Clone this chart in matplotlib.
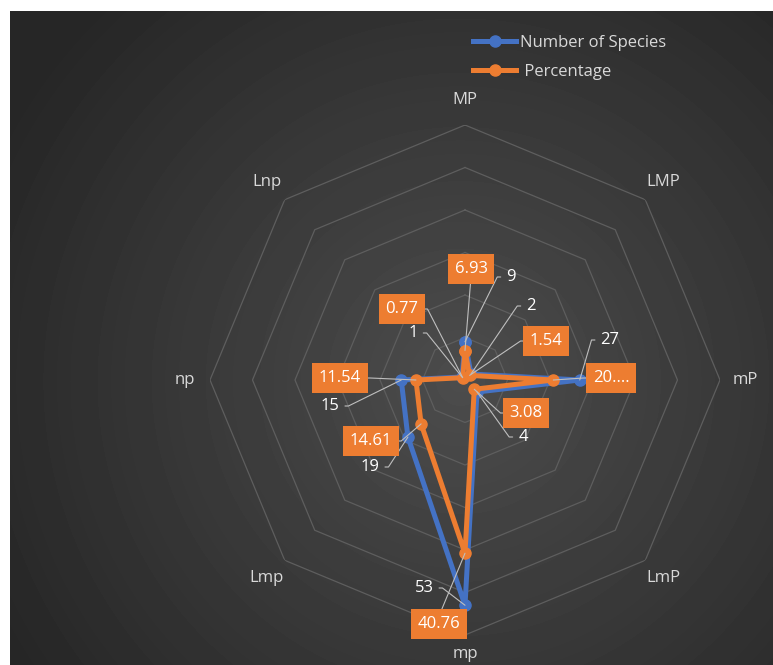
import numpy as np
import matplotlib.pyplot as plt
from matplotlib.lines import Line2D

plt.rcParams['font.family'] = ['Open Sans', 'DejaVu Sans']

# growth-form categories, clockwise from the top
categories = ['MP', 'LMP', 'mP', 'LmP', 'mp', 'Lmp', 'np', 'Lnp']
species_counts = [9, 2, 27, 4, 53, 19, 15, 1]
percentages = [6.93, 1.54, 20.77, 3.08, 40.76, 14.61, 11.54, 0.77]
percent_text = ['6.93', '1.54', '20....', '3.08', '40.76', '14.61', '11.54', '0.77']

BLUE = '#4472C4'
ORANGE = '#ED7D31'
W, H = 773, 665

fig = plt.figure(figsize=(W / 100, H / 100), dpi=100, facecolor='white')

# dark panel with a soft radial glow
bg = fig.add_axes([10 / W, 0, 1 - 10 / W, (H - 11) / H])
yy, xx = np.mgrid[0:654, 0:763]
dist = np.hypot(xx - 450, yy - 370) / 520.0
shade = np.clip(0.30 - 0.15 * dist, 0.15, 0.30)
bg.imshow(shade, cmap='gray', vmin=0, vmax=1, aspect='auto', interpolation='bilinear')
bg.set_axis_off()

cx, cy, rad = 465, 380, 255
ax = fig.add_axes([(cx - rad) / W, (H - cy - rad) / H, 2 * rad / W, 2 * rad / H],
                  projection='polar')
ax.set_facecolor('none')
ax.set_theta_zero_location('N')
ax.set_theta_direction(-1)
ax.set_ylim(0, 60)
ax.grid(False)
ax.spines['polar'].set_visible(False)
ax.set_xticks([])
ax.set_yticks([])

angles = np.linspace(0, 2 * np.pi, len(categories), endpoint=False)
closed = np.append(angles, angles[0])

# octagonal gridlines
for r in range(10, 61, 10):
    ax.plot(closed, [r] * len(closed), color='#5e5e5e', lw=0.9, zorder=1)

for ang, name in zip(angles, categories):
    # the bottom label sits a touch closer so it stays on the canvas
    r_lab = 64.5 if name == 'mp' else 66
    ax.text(ang, r_lab, name, color='#d9d9d9', fontsize=12, ha='center', va='center',
            clip_on=False)

ax.plot(closed, species_counts + species_counts[:1], color=BLUE, lw=3.6,
        marker='o', ms=8, zorder=3, solid_joinstyle='round')
ax.plot(closed, percentages + percentages[:1], color=ORANGE, lw=3.6,
        marker='o', ms=8, zorder=4, solid_joinstyle='round')

# label placement in figure pixels (x, y from top) and which side the leader leaves
count_pos = [(511, 277, 'l'), (531, 306, 'l'), (610, 340, 'l'), (523, 437, 'l'),
             (424, 588, 'r'), (370, 467, 'r'), (330, 406, 'r'), (413, 333, 'r')]
pct_pos = [(471, 269, 'b'), (546, 341, 'l'), (611, 378, 'l'), (526, 413, 'l'),
           (439, 624, 't'), (371, 441, 'r'), (340, 378, 'r'), (402, 309, 'r')]


def leader(side):
    if side == 'l':
        return dict(relpos=(0, 0.5), connectionstyle='arc,angleA=180,armA=9,armB=0,rad=0')
    if side == 'r':
        return dict(relpos=(1, 0.5), connectionstyle='arc,angleA=0,armA=9,armB=0,rad=0')
    if side == 'b':
        return dict(relpos=(0.5, 0), connectionstyle='arc3')
    return dict(relpos=(0.5, 1), connectionstyle='arc3')


for ang, val, (px, py, side) in zip(angles, species_counts, count_pos):
    ax.annotate(str(val), xy=(ang, val), xytext=(px, H - py), textcoords='figure pixels',
                color='white', fontsize=12, ha='center', va='center', zorder=6,
                arrowprops=dict(arrowstyle='-', color='#bfbfbf', lw=0.8,
                                shrinkA=2, shrinkB=0, **leader(side)))

for ang, val, txt, (px, py, side) in zip(angles, percentages, percent_text, pct_pos):
    ax.annotate(txt, xy=(ang, val), xytext=(px, H - py), textcoords='figure pixels',
                color='white', fontsize=12, ha='center', va='center', zorder=7,
                bbox=dict(boxstyle='square,pad=0.4', fc=ORANGE, ec='none'),
                arrowprops=dict(arrowstyle='-', color='#bfbfbf', lw=0.8,
                                shrinkA=0, shrinkB=0, **leader(side)))

handles = [Line2D([], [], color=BLUE, lw=3.6, marker='o', ms=8),
           Line2D([], [], color=ORANGE, lw=3.6, marker='o', ms=8)]
fig.legend(handles, ['Number of Species', ' Percentage'], loc='upper left',
           bbox_to_anchor=(458 / W, 1 - 20 / H), frameon=False, fontsize=12,
           labelcolor='#d9d9d9', handlelength=2.6, handletextpad=0.2,
           labelspacing=0.75)

fig.savefig('out.png', dpi=100, facecolor='white')
